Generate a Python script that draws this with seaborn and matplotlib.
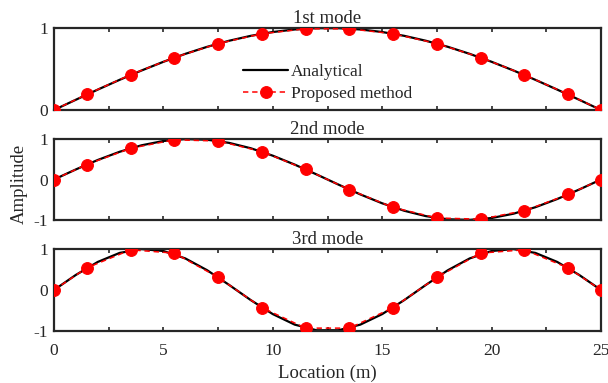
import matplotlib
matplotlib.use("Agg")
import matplotlib.pyplot as plt
import seaborn as sns
import pandas as pd
from matplotlib.ticker import MultipleLocator

# Analytical mode shapes sampled every 1 m
x_fine = list(range(0, 26))
mode1_ana = [0, 0.1253, 0.2487, 0.3681, 0.4818, 0.5878, 0.6845, 0.7705, 0.8443, 0.9048,
             0.9511, 0.9823, 0.9980, 0.9980, 0.9823, 0.9511, 0.9048, 0.8443, 0.7705, 0.6845,
             0.5878, 0.4818, 0.3681, 0.2487, 0.1253, 0]
mode2_ana = [0, 0.2487, 0.4818, 0.6845, 0.8443, 0.9511, 0.9980, 0.9823, 0.9048, 0.7705,
             0.5878, 0.3681, 0.1253, -0.1253, -0.3681, -0.5878, -0.7705, -0.9048, -0.9823, -0.9980,
             -0.9511, -0.8443, -0.6845, -0.4818, -0.2487, 0]
mode3_ana = [0, 0.3681, 0.6845, 0.9048, 0.9980, 0.9511, 0.7705, 0.4818, 0.1253, -0.2487,
             -0.5878, -0.8443, -0.9823, -0.9823, -0.8443, -0.5878, -0.2487, 0.1253, 0.4818, 0.7705,
             0.9511, 0.9980, 0.9048, 0.6845, 0.3681, 0]

# Proposed method (identified) points
x_pts = [0, 1.5, 3.5, 5.5, 7.5, 9.5, 11.5, 13.5, 15.5, 17.5, 19.5, 21.5, 23.5, 25]
mode1_pm = [0, 0.19, 0.43, 0.64, 0.81, 0.93, 0.99, 0.99, 0.93, 0.81, 0.64, 0.43, 0.19, 0]
mode2_pm = [0, 0.37, 0.77, 0.98, 0.95, 0.69, 0.25, -0.25, -0.69, -0.95, -0.98, -0.77, -0.37, 0]
mode3_pm = [0, 0.54, 0.98, 0.90, 0.31, -0.43, -0.93, -0.93, -0.43, 0.31, 0.90, 0.98, 0.54, 0]

titles = ["1st mode", "2nd mode", "3rd mode"]
ylims = [(0, 1), (-1, 1), (-1, 1)]
yticks = [[0, 1], [-1, 0, 1], [-1, 0, 1]]

sns.set_style("ticks")
plt.rcParams['font.family'] = ['Liberation Serif', 'DejaVu Serif']

W, H = 608, 383
fig = plt.figure(figsize=(W / 100, H / 100), dpi=100)
left, right = 54 / W, 601 / W
panels = [(28, 110), (139, 220), (249, 331)]
ana = [mode1_ana, mode2_ana, mode3_ana]
pm = [mode1_pm, mode2_pm, mode3_pm]
dark = "#262626"

axes = []
for i, (top, bot) in enumerate(panels):
    ax = fig.add_axes([left, 1 - bot / H, right - left, (bot - top) / H])
    axes.append(ax)
    da = pd.DataFrame({"x": x_fine, "y": ana[i]})
    dp = pd.DataFrame({"x": x_pts, "y": pm[i]})
    sns.lineplot(data=da, x="x", y="y", ax=ax, color="black", lw=1.6,
                 label="Analytical", zorder=2)
    sns.lineplot(data=dp, x="x", y="y", ax=ax, color="red", lw=1.1,
                 linestyle=(0, (3.5, 2.5)), marker="o", markersize=8.5,
                 markeredgecolor="red", markerfacecolor="red",
                 label="Proposed method", zorder=3)
    ax.set_xlim(0, 25)
    ax.set_ylim(*ylims[i])
    ax.set_yticks(yticks[i])
    ax.set_yticklabels([str(v) for v in yticks[i]])
    ax.xaxis.set_major_locator(MultipleLocator(5))
    ax.xaxis.set_minor_locator(MultipleLocator(2.5))
    ax.tick_params(which="both", direction="in", top=True, right=True,
                   length=3, width=1.2, colors=dark, labelsize=12.5)
    ax.tick_params(axis="x", pad=8.5)
    ax.tick_params(axis="y", pad=4.5)
    for s in ax.spines.values():
        s.set_linewidth(1.6)
        s.set_color(dark)
        s.set_visible(True)
    ax.set_title(titles[i], fontsize=13.5, pad=3.5, color=dark)
    ax.set_xlabel("")
    ax.set_ylabel("")
    if i < 2:
        ax.tick_params(labelbottom=False)
    if ax.get_legend() is not None:
        ax.get_legend().remove()

h, l = axes[0].get_legend_handles_labels()
axes[0].legend(h, l, loc="center", bbox_to_anchor=(0.5, 0.33), frameon=False,
               fontsize=12.5, handlelength=2.6, handletextpad=0.15, labelspacing=0.35,
               borderpad=0)

axes[2].set_xlabel("Location (m)", fontsize=13.5, color=dark, labelpad=4)
fig.text(19 / W, 1 - 184 / H, "Amplitude", rotation=90, ha="center", va="center",
         fontsize=13.5, color=dark)

fig.savefig("out.png", dpi=100)
